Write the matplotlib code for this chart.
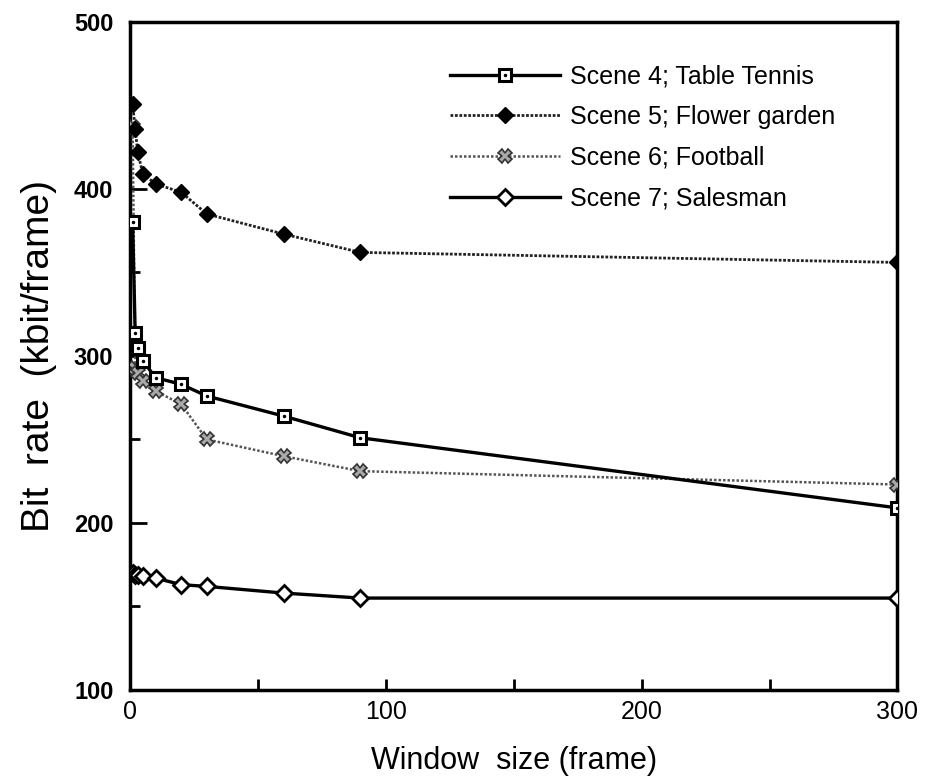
import numpy as np
import matplotlib
matplotlib.use('Agg')
import matplotlib.pyplot as plt
from matplotlib.ticker import MultipleLocator
from matplotlib.legend_handler import HandlerTuple

# dados
janela = [1, 2, 3, 5, 10, 20, 30, 60, 90, 300]
table_tennis = [380, 314, 305, 297, 287, 283, 276, 264, 251, 209]
flower_garden = [451, 436, 422, 409, 403, 398, 385, 373, 362, 356]
football = [437, 293, 290, 285, 279, 271, 250, 240, 231, 223]
salesman = [170, 169, 169, 168, 167, 163, 162, 158, 155, 155]

nomes = ['Scene 4; Table Tennis', 'Scene 5; Flower garden',
         'Scene 6; Football', 'Scene 7; Salesman']

plt.rcParams['font.family'] = ['Liberation Sans', 'DejaVu Sans']

fig = plt.figure(figsize=(9.29, 7.84), dpi=100)
ax = fig.add_axes([0.14, 0.12, 0.826, 0.852])

# Scene 4 - quadrado aberto com ponto
l4, = ax.plot(janela, table_tennis, color='black', lw=2.4, marker='s', ms=9,
              mfc='white', mec='black', mew=2.2, zorder=4)
p4, = ax.plot(janela, table_tennis, ls='none', marker='.', ms=3, color='black', zorder=5)

# Scene 5 - losango cheio
l5, = ax.plot(janela, flower_garden, color='#222222', lw=2.0, ls=(0, (1, 0.6)),
              marker='D', ms=8, mfc='black', mec='black', zorder=4)

# Scene 6 - marcador hachurado
l6, = ax.plot(janela, football, color='#555555', lw=1.8, ls=(0, (1, 0.8)),
              marker='X', ms=10, mfc='#aaaaaa', mec='#333333', mew=1.2, zorder=3)

# Scene 7 - losango aberto
l7, = ax.plot(janela, salesman, color='black', lw=2.4, marker='D', ms=8,
              mfc='white', mec='black', mew=2, zorder=4)

ax.set_xlim(0, 300)
ax.set_ylim(100, 500)
ax.xaxis.set_major_locator(MultipleLocator(100))
ax.xaxis.set_minor_locator(MultipleLocator(50))
ax.yaxis.set_major_locator(MultipleLocator(100))
ax.yaxis.set_minor_locator(MultipleLocator(50))
ax.tick_params(which='both', direction='in', width=2, top=False, right=False)
ax.tick_params(axis='x', which='both', length=8, pad=7, labelsize=18)
ax.tick_params(axis='y', which='major', length=12, pad=12, labelsize=17)
ax.tick_params(axis='y', which='minor', length=7)
for lbl in ax.get_yticklabels():
    lbl.set_fontweight('bold')
for s in ax.spines.values():
    s.set_linewidth(2.5)

ax.set_xlabel('Window  size (frame)', fontsize=22, labelpad=16)
ax.set_ylabel('Bit  rate  (kbit/frame)', fontsize=28, labelpad=12)

ax.legend([(l4, p4), l5, l6, l7], nomes, handler_map={tuple: HandlerTuple(ndivide=1)},
          loc='upper left', bbox_to_anchor=(0.387, 0.97), frameon=False, fontsize=18,
          handlelength=4.4, handletextpad=0.4, labelspacing=0.67)

fig.savefig('out.png', dpi=100)
